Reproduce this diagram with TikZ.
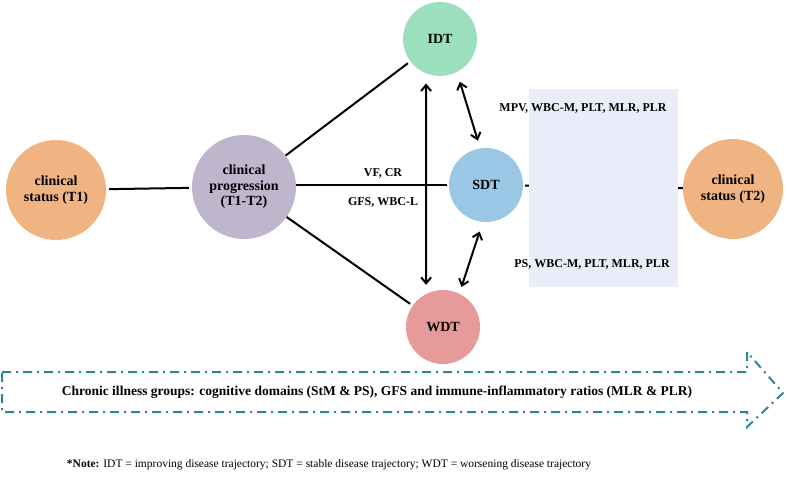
\documentclass[tikz,border=0pt]{standalone}
\usepackage{fontspec}
\setmainfont{Liberation Serif}
\usetikzlibrary{arrows.meta}
\definecolor{orangec}{RGB}{240,180,130}
\definecolor{progc}{RGB}{191,181,204}
\definecolor{idtc}{RGB}{155,223,188}
\definecolor{sdtc}{RGB}{155,199,230}
\definecolor{wdtc}{RGB}{230,154,154}
\definecolor{tealc}{RGB}{47,132,153}
\definecolor{shadec}{RGB}{234,236,250}
\tikzset{
  bubble/.style={circle, inner sep=0pt, minimum size=#1, font=\bfseries\fontsize{14}{16}\selectfont, align=center},
  conn/.style={line width=2pt, black},
  dbl/.style={line width=2pt, black, {Straight Barb[length=6pt,width=10pt,line width=2pt]}-{Straight Barb[length=6pt,width=10pt,line width=2pt]}},
  lbl/.style={font=\bfseries\fontsize{12}{14}\selectfont, inner sep=0pt},
  dashdot/.style={line width=2pt, tealc, dash pattern=on 9pt off 5pt on 2pt off 5pt}
}
\begin{document}
\begin{tikzpicture}[x=1pt,y=-1pt]
\useasboundingbox (0,0) rectangle (787,481);
% nodes
\node[bubble=100pt, fill=orangec] (t1) at (56,190) {clinical\\status (T1)};
\node[bubble=104pt, fill=progc, font=\bfseries\fontsize{14}{15.5}\selectfont] (prog) at (244,187) {clinical\\progression\\(T1-T2)};
\node[bubble=74pt, fill=idtc] (idt) at (440,39) {IDT};
\node[bubble=74pt, fill=sdtc] (sdt) at (486,185) {SDT};
\node[bubble=74pt, fill=wdtc] (wdt) at (443,327) {WDT};
\node[bubble=100pt, fill=orangec] (t2) at (733,189) {clinical\\status (T2)};
% connectors
\draw[conn, shorten <=3pt, shorten >=3pt] (t1) -- (prog);
\draw[conn, shorten >=3pt] (prog) -- (idt);
\draw[conn, shorten >=3pt] (prog) -- (wdt);
\draw[conn, shorten >=2pt] (prog.east |- sdt.west) -- (sdt.west);
\draw[conn, shorten <=2pt] (sdt) -- (t2);
% shaded box
\node[fill=shadec, inner sep=0pt, minimum width=149pt, minimum height=198pt] (box) at (603.5,188) {};
% double arrows
\draw[dbl, shorten <=10pt, shorten >=9pt] (idt.248) -- (wdt.117);
\draw[dbl, shorten <=10pt, shorten >=8pt] (idt.-63) -- (sdt.99);
\draw[dbl, shorten <=10pt, shorten >=7pt] (sdt.-95) -- (wdt.64.6);
% labels
\node[lbl] (l1) at (383,173) {VF, CR};
\node[lbl] (l2) at (383,202) {GFS, WBC-L};
\node[lbl] (l3) at (583,108) {MPV, WBC-M, PLT, MLR, PLR};
\node[lbl] (l4) at (592,264) {PS, WBC-M, PLT, MLR, PLR};
% big arrow
\draw[dashdot] (2,372) -- (747,372) -- (747,352) -- (783,393) -- (747,427) -- (747,412) -- (2,412) -- cycle;
\node[inner sep=0pt, font=\bfseries\fontsize{13.5}{16}\selectfont] (chron) at (377,392) {Chronic illness groups: cognitive domains (StM \& PS), GFS and immune-inflammatory ratios (MLR \& PLR)};
% note
\node[inner sep=0pt, font=\fontsize{11.5}{14}\selectfont] (note) at (329,465) {\textbf{*Note:} IDT = improving disease trajectory; SDT = stable disease trajectory; WDT = worsening disease trajectory};
\end{tikzpicture}
\end{document}
